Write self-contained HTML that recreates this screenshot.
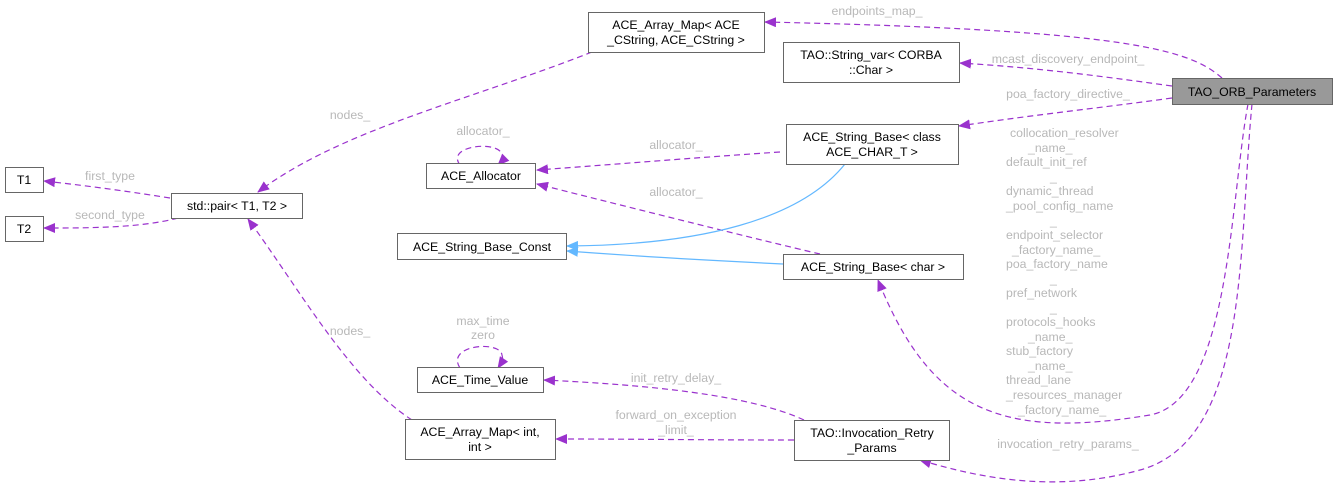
<!DOCTYPE html>
<html><head><meta charset="utf-8"><style>
body{margin:0;background:#fff;}
svg{display:block;font-family:"Liberation Sans",sans-serif;}
.b{fill:#fff;stroke:#666;stroke-width:1}
.t{font-size:12.3px;fill:#000;text-anchor:middle}
.l{font-size:12.3px;fill:#b8b8b8;text-anchor:middle}
.d{fill:none;stroke:#9a32cd;stroke-width:1.2;stroke-dasharray:6,4}
.s{fill:none;stroke:#63b8ff;stroke-width:1.2}
</style></head><body>
<svg width="1337" height="489" viewBox="0 0 1337 489">
<defs>
<marker id="p" markerWidth="12" markerHeight="10" refX="11" refY="5" orient="auto" markerUnits="userSpaceOnUse"><path d="M0,0L12,5L0,10z" fill="#9a32cd"/></marker>
<marker id="q" markerWidth="12" markerHeight="10" refX="11" refY="5" orient="auto" markerUnits="userSpaceOnUse"><path d="M0,0L12,5L0,10z" fill="#63b8ff"/></marker>
</defs>
<path class="d" marker-end="url(#p)" d="M1222,78 C1190,50 1130,30 765,22"/>
<path class="d" marker-end="url(#p)" d="M1172,86 C1100,76 1040,68 960,63"/>
<path class="d" marker-end="url(#p)" d="M1172,98 C1100,108 1040,114 959,126"/>
<path class="d" marker-end="url(#p)" d="M1248,104 C1230,200 1230,400 1150,415 C1000,440 930,410 878,280"/>
<path class="d" marker-end="url(#p)" d="M1252,104 C1238,250 1250,440 1140,470 C1050,495 970,475 920,460"/>
<path class="d" marker-end="url(#p)" d="M592,52 C470,100 340,130 258,192"/>
<path class="d" marker-end="url(#p)" d="M780,152 C690,158 620,164 537,170"/>
<path class="d" marker-end="url(#p)" d="M820,254 C760,240 640,210 537,184"/>
<path class="d" marker-end="url(#p)" d="M460,165 C445,145 500,140 502,155 C504,160 500,163 498,165" />
<path class="d" marker-end="url(#p)" d="M460,368 C445,345 500,340 502,355 C504,362 500,365 498,368"/>
<path class="s" marker-end="url(#q)" d="M845,164 C800,220 700,245 567,246"/>
<path class="s" marker-end="url(#q)" d="M783,264 C700,260 620,255 567,251"/>
<path class="d" marker-end="url(#p)" d="M170,198 C120,190 80,185 44,181"/>
<path class="d" marker-end="url(#p)" d="M178,218 C140,228 90,228 44,228"/>
<path class="d" marker-end="url(#p)" d="M412,420 C350,380 300,290 248,219"/>
<path class="d" marker-end="url(#p)" d="M804,420 C750,395 650,385 544,380"/>
<path class="d" marker-end="url(#p)" d="M794,440 C700,440 640,439 556,439"/>
<text class="l" x="877" y="15">endpoints_map_</text>
<text class="l" x="1068" y="63">mcast_discovery_endpoint_</text>
<text class="l" x="1068" y="98">poa_factory_directive_</text>
<text class="l" x="350" y="119">nodes_</text>
<text class="l" x="483" y="135">allocator_</text>
<text class="l" x="676" y="149">allocator_</text>
<text class="l" x="676" y="196">allocator_</text>
<text class="l" x="110" y="180">first_type</text>
<text class="l" x="110" y="219">second_type</text>
<text class="l" x="350" y="335">nodes_</text>
<text class="l" x="483" y="325">max_time</text>
<text class="l" x="483" y="339">zero</text>
<text class="l" x="676" y="382">init_retry_delay_</text>
<text class="l" x="676" y="419">forward_on_exception</text>
<text class="l" x="676" y="434">_limit_</text>
<text class="l" x="1068" y="448">invocation_retry_params_</text>
<g class="l" style="text-anchor:start">
<text x="1010" y="137">collocation_resolver</text>
<text x="1028" y="152">_name_</text>
<text x="1006" y="166">default_init_ref</text>
<text x="1050" y="181">_</text>
<text x="1006" y="195">dynamic_thread</text>
<text x="1006" y="210">_pool_config_name</text>
<text x="1050" y="225">_</text>
<text x="1006" y="239">endpoint_selector</text>
<text x="1012" y="254">_factory_name_</text>
<text x="1006" y="268">poa_factory_name</text>
<text x="1050" y="283">_</text>
<text x="1006" y="297">pref_network</text>
<text x="1050" y="312">_</text>
<text x="1006" y="326">protocols_hooks</text>
<text x="1028" y="341">_name_</text>
<text x="1006" y="355">stub_factory</text>
<text x="1028" y="370">_name_</text>
<text x="1006" y="384">thread_lane</text>
<text x="1006" y="399">_resources_manager</text>
<text x="1018" y="414">_factory_name_</text>
</g>
<rect class="b" x="588.5" y="12.5" width="176" height="40"/><text class="t" x="676" y="29">ACE_Array_Map&lt; ACE</text><text class="t" x="676" y="44">_CString, ACE_CString &gt;</text>
<rect class="b" x="783.5" y="42.5" width="176" height="40"/><text class="t" x="871" y="59">TAO::String_var&lt; CORBA</text><text class="t" x="871" y="74">::Char &gt;</text>
<rect x="1172.5" y="78.5" width="160" height="26" fill="#999" stroke="#666"/><text class="t" x="1252" y="96">TAO_ORB_Parameters</text>
<rect class="b" x="786.5" y="124.5" width="172" height="40"/><text class="t" x="872" y="141">ACE_String_Base&lt; class</text><text class="t" x="872" y="156">ACE_CHAR_T &gt;</text>
<rect class="b" x="783.5" y="254.5" width="180" height="25"/><text class="t" x="873" y="271">ACE_String_Base&lt; char &gt;</text>
<rect class="b" x="794.5" y="420.5" width="155" height="40"/><text class="t" x="872" y="437">TAO::Invocation_Retry</text><text class="t" x="872" y="452">_Params</text>
<rect class="b" x="5.5" y="167.5" width="38" height="25"/><text class="t" x="24" y="184">T1</text>
<rect class="b" x="5.5" y="216.5" width="38" height="25"/><text class="t" x="24" y="233">T2</text>
<rect class="b" x="171.5" y="193.5" width="131" height="25"/><text class="t" x="237" y="210">std::pair&lt; T1, T2 &gt;</text>
<rect class="b" x="426.5" y="163.5" width="109" height="25"/><text class="t" x="481" y="180">ACE_Allocator</text>
<rect class="b" x="397.5" y="233.5" width="169" height="26"/><text class="t" x="482" y="251">ACE_String_Base_Const</text>
<rect class="b" x="417.5" y="367.5" width="126" height="25"/><text class="t" x="480" y="384">ACE_Time_Value</text>
<rect class="b" x="405.5" y="419.5" width="150" height="40"/><text class="t" x="480" y="436">ACE_Array_Map&lt; int,</text><text class="t" x="480" y="451">int &gt;</text>
</svg>
</body></html>
